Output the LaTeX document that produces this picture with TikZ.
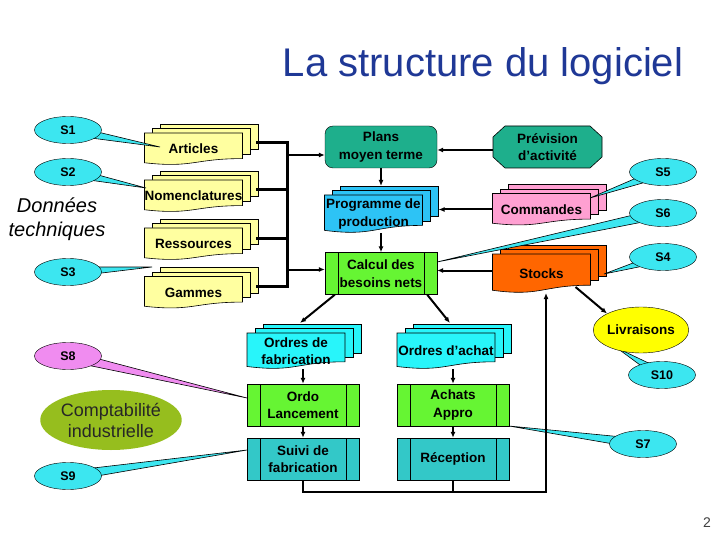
\documentclass[tikz,border=0pt]{standalone}
\usepackage{fontspec}
\setmainfont{Liberation Sans}
\usetikzlibrary{shapes.geometric,arrows.meta,calc,positioning}

\definecolor{titleblue}{RGB}{31,56,150}
\definecolor{callcyan}{RGB}{60,230,240}
\definecolor{bullepink}{RGB}{240,140,240}
\definecolor{docyellow}{RGB}{255,255,160}
\definecolor{progblue}{RGB}{45,195,245}
\definecolor{cmdpink}{RGB}{255,160,210}
\definecolor{stkorange}{RGB}{255,102,0}
\definecolor{ordcyan}{RGB}{40,245,250}
\definecolor{planteal}{RGB}{30,175,140}
\definecolor{procgreen}{RGB}{102,245,51}
\definecolor{suiviteal}{RGB}{51,200,200}
\definecolor{livyellow}{RGB}{255,255,0}
\definecolor{comptaolive}{RGB}{150,190,30}

\pgfdeclarelayer{sheets}
\pgfdeclarelayer{tails}
\pgfsetlayers{sheets,tails,main}

\newcommand{\txt}{\bfseries\fontsize{13.5}{17.5}\selectfont}

\begin{document}
\begin{tikzpicture}[x=1pt,y=-1pt,
  stack/.style={minimum width=98pt,minimum height=#1,inner sep=0pt,outer sep=0pt,align=center,font=\txt},
  stack/.default=32pt,
  plan/.style={rectangle,rounded corners=8pt,draw,fill=planteal,minimum width=112pt,minimum height=42pt,inner sep=0pt,align=center,font=\txt},
  chamf/.style={rectangle,minimum width=109pt,minimum height=42pt,inner sep=0pt,outer sep=0pt,align=center,font=\txt},
  proc/.style={rectangle,draw,fill=#1,minimum width=112pt,minimum height=42pt,inner sep=0pt,align=center,font=\txt,
    path picture={\draw ([xshift=13pt]path picture bounding box.north west) -- ([xshift=13pt]path picture bounding box.south west);
      \draw ([xshift=-13pt]path picture bounding box.north east) -- ([xshift=-13pt]path picture bounding box.south east);}},
  bulle/.style={ellipse,draw,fill=#1,minimum width=67pt,minimum height=27pt,inner sep=0pt,font=\bfseries\fontsize{12.5}{14}\selectfont},
  bulle/.default=callcyan,
  arr/.style={-{Latex[length=6pt,width=5pt]},line width=2pt},
  bus/.style={line width=3pt,line cap=rect},
  conn/.style={line width=2pt}]

	% title
	\node[font=\fontsize{40}{48}\selectfont,text=titleblue,anchor=base] (title) at (483,77) {La structure du logiciel};
	
	% technical data
	\node[stack] (art) at (193.5,149) {Articles};
	\node[stack] (nom) at (193.5,196) {Nomenclatures};
	\node[stack] (res) at (193.5,244) {Ressources};
	\node[stack] (gam) at (193.5,292.5) {Gammes};
	\node[font=\itshape\fontsize{20}{24}\selectfont,align=center] (donnees) at (57,219) {Données\\techniques};
	
	% planning
	\node[plan] (plans) at (381,147) {Plans\\moyen terme};
	\node[chamf] (prev) at (547.5,147) {Prévision\\d’activité};
	\node[stack=38pt] (prog) at (373.5,214) {Programme de\\production};
	\node[stack] (cmd) at (541.5,209.5) {Commandes};
	\node[proc=procgreen] (cbn) at (381,273.5) {Calcul des\\besoins nets};
	\node[stack=39pt] (stk) at (541.5,273.5) {Stocks};
	\node[ellipse,draw,fill=livyellow,minimum width=95pt,minimum height=46pt,inner sep=0pt,font=\txt] (livr) at (641,330) {Livraisons};
	
	% orders
	\node[stack=36pt] (of) at (296,351) {Ordres de\\fabrication};
	\node[stack=36pt] (oa) at (446,351) {Ordres d’achat};
	\node[proc=procgreen] (ordo) at (303,405) {Ordo\\Lancement};
	\node[proc=suiviteal] (suivi) at (303,459) {Suivi de\\fabrication};
	\node[proc=procgreen] (achat) at (453,405) {Achats\\Appro};
	\node[proc=suiviteal] (recep) at (453,459) {Réception};
	
	\node[ellipse,fill=comptaolive,minimum width=114pt,minimum height=60pt,inner sep=0pt,align=center,font=\fontsize{18}{21}\selectfont,text=black!85] (compta) at (111,420) {Comptabilité\\industrielle};
	\node[font=\fontsize{14}{16}\selectfont,text=black!75] (pnum) at (707,523) {2};
	
	% callouts
	\node[bulle] (s1) at (68,130) {S1};
	\node[bulle] (s2) at (68,172) {S2};
	\node[bulle] (s3) at (68,272) {S3};
	\node[bulle=bullepink] (s8) at (68,356) {S8};
	\node[bulle] (s9) at (68,476) {S9};
	\node[bulle] (s5) at (663,172) {S5};
	\node[bulle] (s6) at (663,213) {S6};
	\node[bulle] (s4) at (663,257) {S4};
	\node[bulle] (s10) at (662,375) {S10};
	\node[bulle] (s7) at (643,444) {S7};
	
	\coordinate (t1) at (160,147);
	\coordinate (t2) at (146,188);
	\coordinate (t3) at (152,267);
	\coordinate (t8) at (247,398);
	\coordinate (t9) at (247,450);
	\coordinate (t5) at (590,198);
	\coordinate (t6) at (437,262);
	\coordinate (t4) at (604,274);
	\coordinate (t10) at (617,348);
	\coordinate (t7) at (509,426);
	
	% data bus
	\foreach \nd in {art,nom,res,gam}
		\draw[bus] ($(\nd.east)+(15,-6)$) -- ++(30,0);
	\coordinate (bustop) at ($(art.east)+(45,-6)$);
	\coordinate (busbot) at ($(gam.east)+(45,-6)$);
	\draw[bus] (bustop) -- (busbot);
	\draw[arr] ($(bustop |- plans.west)+(0,8)$) -- ($(plans.west)+(0,8)$);
	\draw[arr] ($(bustop |- cbn.west)+(0,-4)$) -- ($(cbn.west)+(0,-4)$);
	
	% flows
	\draw[arr] ($(prev.west)+(0,3)$) -- ($(plans.east)+(0,3)$);
	\draw[arr] (plans.south) -- ($(plans.south |- prog.north)+(0,-9)$);
	\draw[arr] (cbn.north |- prog.south) -- (cbn.north);
	\draw[arr] (cmd.west) -- ($(cmd.west -| prog.east)+(16,0)$);
	\draw[arr] ($(stk.west)+(0,-3)$) -- ($(cbn.east)+(0,-3)$);
	\draw[arr] ($(cbn.south west)+(10,0)$) -- ($(of.north)+(4,-10)$);
	\draw[arr] ($(cbn.south east)+(-10,0)$) -- ($(oa.north)+(4,-10)$);
	\draw[arr] (ordo.north |- of.south) -- (ordo.north);
	\draw[arr] (ordo.south) -- (suivi.north);
	\draw[arr] (achat.north |- oa.south) -- (achat.north);
	\draw[arr] (achat.south) -- (recep.north);
	\coordinate (loop) at (546,492);
	\draw[arr,line width=2.5pt] (suivi.south) |- (loop) -- (loop |- stk.south);
	\draw[conn,line width=2.5pt] (recep.south) -- (recep.south |- loop);
	\draw[arr] ($(stk.south east)+(-15,-6)$) -- (livr.north west);
	
	% document stacks
	\begin{pgfonlayer}{sheets}
	\fill[white] (0,0) rectangle (720,540);
	\filldraw[fill=planteal,line width=.6pt] ($(prev.north west)+(12,0)$) -- ($(prev.north east)+(-12,0)$) -- ($(prev.north east)+(0,11)$)
		-- ($(prev.south east)+(0,-11)$) -- ($(prev.south east)+(-12,0)$) -- ($(prev.south west)+(12,0)$)
		-- ($(prev.south west)+(0,-11)$) -- ($(prev.north west)+(0,11)$) -- cycle;
	\foreach \nd/\cl in {art/docyellow,nom/docyellow,res/docyellow,gam/docyellow,prog/progblue,cmd/cmdpink,stk/stkorange,of/ordcyan,oa/ordcyan}{
		\foreach \k in {2,1}
			\filldraw[fill=\cl,line width=.6pt] ($(\nd.north west)+(8*\k,-4.5*\k)$) rectangle ($(\nd.north east)!0.8!(\nd.south east)+(8*\k,-4.5*\k)$);
		\filldraw[fill=\cl,line width=.6pt] (\nd.north west) -- (\nd.north east) -- ($(\nd.north east)!0.8!(\nd.south east)$)
			.. controls ($(\nd.north)!0.8!(\nd.south)$) and ($(\nd.north)!1.1!(\nd.south)$) .. ($(\nd.north west)!0.93!(\nd.south west)$) -- cycle;
	}
	\end{pgfonlayer}
	
	% callout tails
	\begin{pgfonlayer}{tails}
	\foreach \sc/\tp/\cl in {s1/t1/callcyan,s2/t2/callcyan,s3/t3/callcyan,s8/t8/bullepink,s9/t9/callcyan,s5/t5/callcyan,s6/t6/callcyan,s4/t4/callcyan,s10/t10/callcyan,s7/t7/callcyan}
		\filldraw[fill=\cl,line width=.6pt] ($(\sc.center)!5pt!90:(\tp)$) -- (\tp) -- ($(\sc.center)!5pt!-90:(\tp)$) -- cycle;
	\end{pgfonlayer}
	
	\useasboundingbox (0,0) rectangle (720,540);
\end{tikzpicture}
\end{document}
